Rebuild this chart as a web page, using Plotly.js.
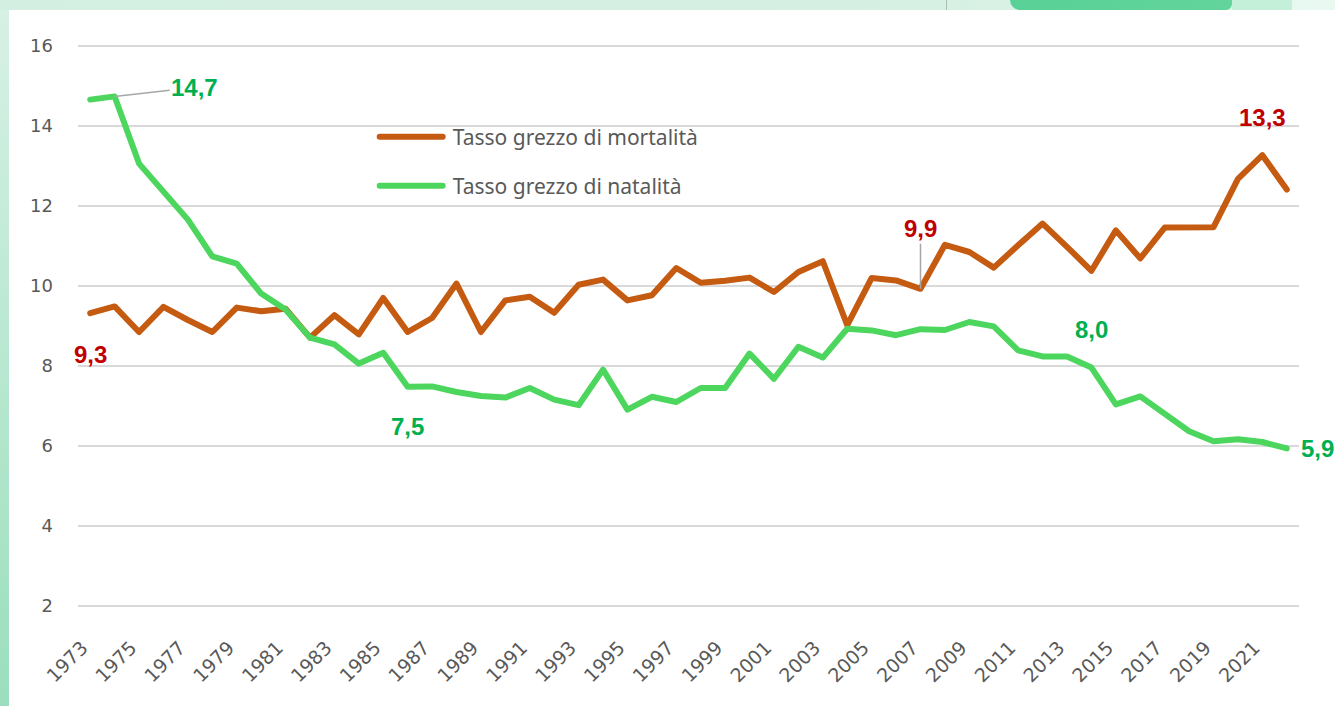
<!DOCTYPE html>
<html>
<head>
<meta charset="utf-8">
<script src="https://cdn.plot.ly/plotly-3.0.1.min.js"></script>
<style>
  html, body { margin: 0; padding: 0; width: 1335px; height: 706px; overflow: hidden; }
  #bg { position: absolute; left: 0; top: 0; width: 1335px; height: 706px;
        background: linear-gradient(180deg, #d8f1e5 0%, #b9e8d1 50%, #9bdebf 100%); }
  #topstrip { position: absolute; left: 0; top: 0; width: 1335px; height: 10px;
        background: linear-gradient(90deg, #d3efe1 0%, #d6f0e3 70%, #e9f9f1 100%); }
  #blob { position: absolute; left: 1010px; top: 0; width: 222px; height: 10px;
        background: linear-gradient(90deg, #58d196, #62d49c); border-radius: 0 0 6px 10px; }
  #blob2 { position: absolute; left: 1232px; top: 0; width: 60px; height: 10px; background: #c4efd9; }
  #thin { position: absolute; left: 946px; top: 0; width: 1px; height: 10px; background: #a9bdb3; }
  #white { position: absolute; left: 9px; top: 10px; width: 1326px; height: 696px; background: #ffffff; }
  #chart { position: absolute; left: 0; top: 0; width: 1335px; height: 706px; }
  .js-line { stroke-linejoin: round !important; stroke-linecap: round !important; }
</style>
</head>
<body>
<div id="bg"></div>
<div id="topstrip"></div>
<div id="thin"></div>
<div id="blob"></div>
<div id="blob2"></div>
<div id="white"></div>
<div id="chart"></div>
<script>
// ---- Data ----
const years = [1973,1974,1975,1976,1977,1978,1979,1980,1981,1982,
               1983,1984,1985,1986,1987,1988,1989,1990,1991,1992,
               1993,1994,1995,1996,1997,1998,1999,2000,2001,2002,
               2003,2004,2005,2006,2007,2008,2009,2010,2011,2012,
               2013,2014,2015,2016,2017,2018,2019,2020,2021,2022];

const mortalita = [9.32,9.49,8.85,9.48,9.15,8.85,9.46,9.37,9.43,8.71,
                   9.27,8.79,9.70,8.85,9.20,10.06,8.85,9.64,9.73,9.33,
                   10.03,10.16,9.64,9.77,10.45,10.08,10.13,10.21,9.85,10.35,
                   10.62,9.02,10.20,10.14,9.93,11.03,10.85,10.46,11.02,11.56,
                   10.98,10.38,11.39,10.69,11.46,11.46,11.47,12.68,13.27,12.41];

const natalita = [14.66,14.74,13.06,12.35,11.66,10.74,10.56,9.81,9.41,8.71,
                  8.54,8.06,8.33,7.48,7.49,7.35,7.25,7.21,7.45,7.16,
                  7.02,7.91,6.91,7.23,7.10,7.45,7.45,8.31,7.68,8.48,
                  8.21,8.93,8.89,8.77,8.92,8.90,9.10,8.99,8.39,8.24,
                  8.24,7.96,7.04,7.24,6.81,6.37,6.12,6.17,6.10,5.94];

const xTickYears = [1973,1975,1977,1979,1981,1983,1985,1987,1989,1991,1993,1995,1997,
                    1999,2001,2003,2005,2007,2009,2011,2013,2015,2017,2019,2021];
const yTickVals = [2,4,6,8,10,12,14,16];

const seriesNames = ['Tasso grezzo di mortalità', 'Tasso grezzo di natalità'];

// labelled points
const mortLabelYears = [1973, 2007, 2021];
const natLabelYears = [1974, 1986, 2014, 2022];

// ---- Styles ----
const ORANGE = '#C55A11';
const GREEN = '#4CD65E';
const RED_LBL = '#C00000';
const GREEN_LBL = '#00B050';
const GRID = '#D9D9D9';
const TXT = '#595959';

const fmt = v => v.toFixed(1).replace('.', ',');
const valAt = (arr, yr) => arr[years.indexOf(yr)];

const traces = [
  { x: years, y: mortalita, type: 'scatter', mode: 'lines', name: seriesNames[0],
    line: { color: ORANGE, width: 6 }, legend: 'legend', hoverinfo: 'x+y' },
  { x: years, y: natalita, type: 'scatter', mode: 'lines', name: seriesNames[1],
    line: { color: GREEN, width: 6 }, legend: 'legend2', hoverinfo: 'x+y' }
];

const lblFont = (c) => ({ family: 'Liberation Sans, Arial, sans-serif', size: 24, color: c, weight: 'bold' });

const mortOffsets = {
  1973: { showarrow: false, yshift: -41 },
  2007: { showarrow: true, ax: 0, ay: -60 },
  2021: { showarrow: false, yshift: 38 }
};
const natOffsets = {
  1974: { showarrow: true, ax: 80, ay: -9 },
  1986: { showarrow: false, yshift: -40 },
  2014: { showarrow: false, yshift: 38 },
  2022: { showarrow: false, xshift: 31 }
};

const annotations = [];
mortLabelYears.forEach(yr => {
  annotations.push(Object.assign({
    x: yr, y: valAt(mortalita, yr), xref: 'x', yref: 'y',
    text: fmt(valAt(mortalita, yr)), font: lblFont(RED_LBL),
    arrowhead: 0, arrowwidth: 1.5, arrowcolor: '#A6A6A6', standoff: 0
  }, mortOffsets[yr]));
});
natLabelYears.forEach(yr => {
  annotations.push(Object.assign({
    x: yr, y: valAt(natalita, yr), xref: 'x', yref: 'y',
    text: fmt(valAt(natalita, yr)), font: lblFont(GREEN_LBL),
    arrowhead: 0, arrowwidth: 1.5, arrowcolor: '#A6A6A6', standoff: 0
  }, natOffsets[yr]));
});

const legendFont = { family: 'Noto Sans, sans-serif', size: 21, color: TXT };

const layout = {
  width: 1335, height: 706,
  paper_bgcolor: 'rgba(0,0,0,0)', plot_bgcolor: 'rgba(0,0,0,0)',
  margin: { l: 78, r: 36, t: 42, b: 96 },
  showlegend: true,
  legend: { x: 0.243, y: 0.8325, xanchor: 'left', yanchor: 'middle', font: legendFont,
            bgcolor: 'rgba(0,0,0,0)', itemwidth: 68 },
  legend2: { x: 0.243, y: 0.7465, xanchor: 'left', yanchor: 'middle', font: legendFont,
             bgcolor: 'rgba(0,0,0,0)', itemwidth: 68 },
  xaxis: {
    type: 'linear', range: [1972.5, 2022.5], tickmode: 'array',
    tickvals: xTickYears, ticktext: xTickYears.map(String),
    tickangle: -45, showgrid: false, zeroline: false, showline: false, ticks: '',
    tickfont: { family: 'DejaVu Sans, sans-serif', size: 19, color: TXT },
    ticklabelstandoff: 22, ticklabelshift: -8, fixedrange: true
  },
  yaxis: {
    range: [1.9, 16.1], tickmode: 'array', tickvals: yTickVals, ticktext: yTickVals.map(String),
    showgrid: true, gridcolor: GRID, gridwidth: 1.5, zeroline: false, showline: false, ticks: '',
    tickfont: { family: 'DejaVu Sans, sans-serif', size: 18, color: TXT },
    ticklabelstandoff: 24, fixedrange: true
  },
  annotations: annotations
};

function stretchLegendLines() {
  // lengthen the legend sample lines to fill the wider item slot, as in the original chart
  document.querySelectorAll('#chart .legendlines path').forEach(p => {
    p.setAttribute('d', 'M5,0h63');
  });
}

Plotly.newPlot('chart', traces, layout, { displayModeBar: false, staticPlot: true }).then(gd => {
  stretchLegendLines();
  gd.on('plotly_afterplot', stretchLegendLines);
  setTimeout(stretchLegendLines, 50);
});
</script>
</body>
</html>
